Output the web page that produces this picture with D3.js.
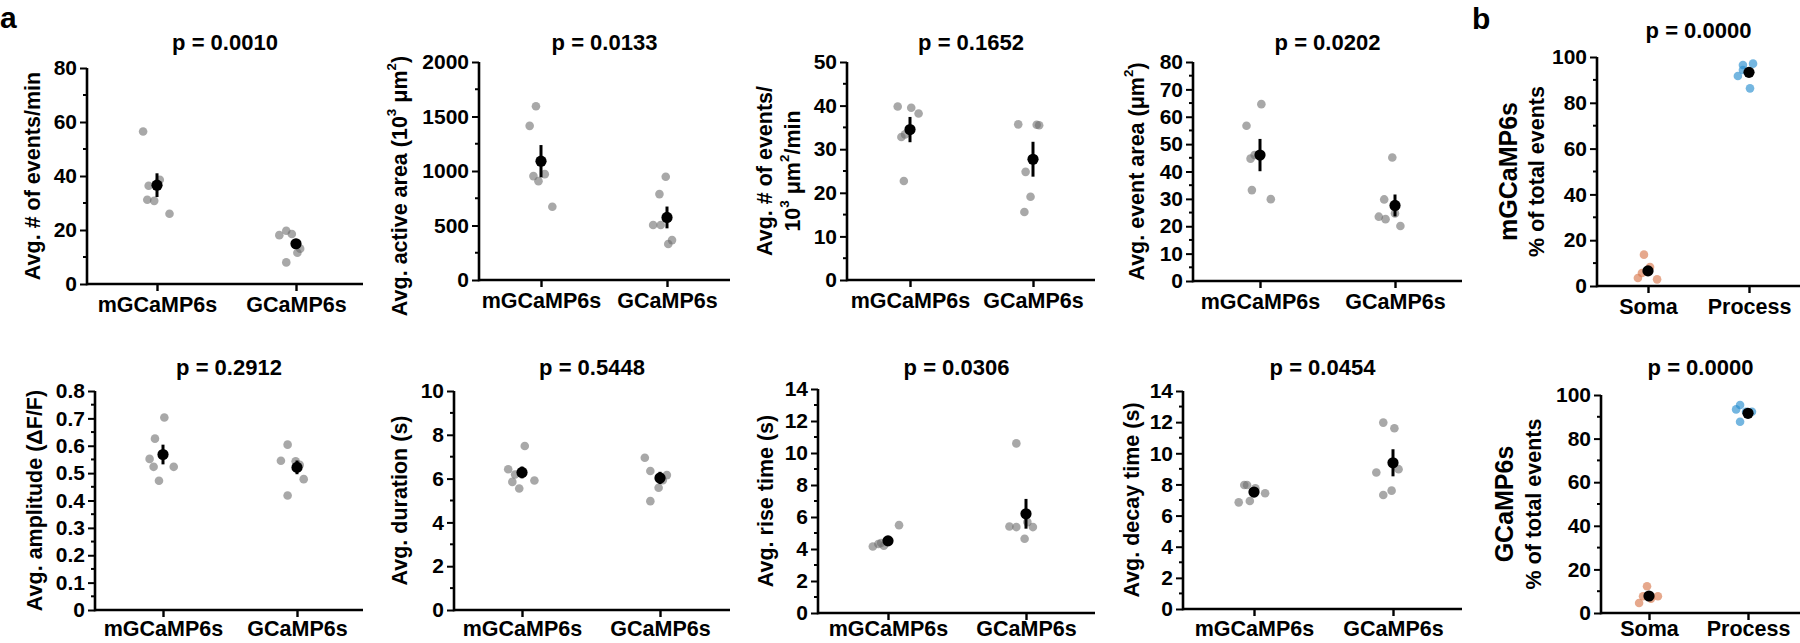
<!DOCTYPE html>
<html><head><meta charset="utf-8">
<script src="https://cdn.jsdelivr.net/npm/d3@7"></script>
<style>
body{margin:0;background:#fff}
svg{display:block}
text{font-family:"Liberation Sans",Arial,sans-serif;font-weight:bold;fill:#000}
</style>
</head><body><svg id="c" width="1800" height="643"></svg>
<script>
// ---------- categories ----------
const groupsA = ["mGCaMP6s", "GCaMP6s"];
const groupsB = ["Soma", "Process"];

// ---------- a: events / min ----------
const rateM = [56.5, 36.4, 38.6, 31.2, 30.8, 26.0];
const rateG = [18.1, 19.7, 18.5, 11.6, 13.1, 8.0];
const rateMean = [36.6, 14.9];
const rateSem = [4.4, 1.8];
const rateTicks = [0, 20, 40, 60, 80];
// ---------- a: active area ----------
const areaM = [1594, 1414, 953, 907, 971, 672];
const areaG = [947, 788, 504, 504, 366, 330];
const areaMean = [1090, 574];
const areaSem = [148, 100];
const areaTicks = [0, 500, 1000, 1500, 2000];
// ---------- a: events / 10^3 um^2 / min ----------
const densM = [39.8, 39.5, 38.2, 32.8, 33.4, 22.7];
const densG = [35.7, 35.6, 35.5, 24.8, 19.1, 15.6];
const densMean = [34.5, 27.7];
const densSem = [2.9, 4.0];
const densTicks = [0, 10, 20, 30, 40, 50];
// ---------- a: event area ----------
const evAreaM = [64.6, 56.7, 44.7, 46.0, 33.2, 29.9];
const evAreaG = [45.1, 29.8, 23.5, 22.6, 24.7, 20.1];
const evAreaMean = [46.0, 27.6];
const evAreaSem = [5.9, 4.0];
const evAreaTicks = [0, 10, 20, 30, 40, 50, 60, 70, 80];
// ---------- a: amplitude ----------
const ampM = [0.703, 0.626, 0.552, 0.523, 0.523, 0.472];
const ampG = [0.604, 0.545, 0.543, 0.478, 0.418, 0.530];
const ampMean = [0.568, 0.521];
const ampSem = [0.036, 0.025];
const ampTicks = [0, 0.1, 0.2, 0.3, 0.4, 0.5, 0.6, 0.7, 0.8];
// ---------- a: duration ----------
const durM = [7.49, 6.43, 6.19, 5.85, 5.55, 5.91];
const durG = [6.95, 6.35, 5.58, 4.97, 6.16, 5.93];
const durMean = [6.28, 6.03];
const durSem = [0.27, 0.28];
const durTicks = [0, 2, 4, 6, 8, 10];
// ---------- a: rise time ----------
const riseM = [4.16, 4.31, 4.37, 4.20, 5.49, 4.50];
const riseG = [10.6, 5.41, 5.37, 5.68, 5.37, 4.64];
const riseMean = [4.51, 6.20];
const riseSem = [0.2, 0.93];
const riseTicks = [0, 2, 4, 6, 8, 10, 12, 14];
// ---------- a: decay time ----------
const decayM = [7.96, 7.96, 7.75, 7.43, 6.85, 6.94];
const decayG = [11.97, 11.61, 8.77, 8.98, 7.32, 7.60];
const decayMean = [7.51, 9.39];
const decaySem = [0.18, 0.87];
const decayTicks = [0, 2, 4, 6, 8, 10, 12, 14];
// ---------- b: mGCaMP6s % of total events ----------
const mSoma = [13.7, 3.5, 5.7, 8.3, 2.9];
const mProcess = [86.3, 96.5, 94.3, 91.7, 97.1];
const mPctMean = [6.6, 93.3];
const mPctSem = [1.8, 1.8];
// ---------- b: GCaMP6s % of total events ----------
const gSoma = [12.25, 4.6, 7.7, 6.6, 7.7];
const gProcess = [87.75, 95.4, 92.3, 93.4, 92.3];
const gPctMean = [7.8, 91.6];
const gPctSem = [1.2, 1.2];
const pctTicks = [0, 20, 40, 60, 80, 100];

// horizontal jitter of each point, in units of the category spacing
const rateJit = [[-0.10,-0.06,0.02,-0.07,-0.02,0.09],[-0.12,-0.07,-0.03,0.01,0.03,-0.07]];
const areaJit = [[-0.04,-0.09,-0.06,-0.02,0.03,0.09],[-0.01,-0.06,-0.11,-0.05,0.04,0.01]];
const densJit = [[-0.10,0.01,0.07,-0.07,-0.04,-0.05],[-0.12,0.03,0.05,-0.06,-0.02,-0.07]];
const evAreaJit = [[0.01,-0.10,-0.07,-0.04,-0.06,0.08],[-0.02,-0.08,-0.12,-0.07,0,0.04]];
const ampJit = [[0.01,-0.06,-0.10,-0.07,0.08,-0.03],[-0.07,-0.12,-0.01,0.05,-0.07,0.02]];
const durJit = [[0.02,-0.10,-0.05,-0.07,-0.02,0.09],[-0.11,-0.07,-0.01,-0.07,0.05,0.02]];
const riseJit = [[-0.11,-0.07,-0.05,-0.03,0.08,0],[-0.07,-0.12,-0.07,0.01,0.05,-0.01]];
const decayJit = [[-0.07,-0.05,0.01,0.08,-0.11,-0.03],[-0.07,0.01,-0.12,0.04,-0.07,-0.01]];
const mPctJit = [[-0.04,-0.10,-0.06,0.02,0.09],[0.01,-0.06,-0.06,-0.11,0.04]];
const gPctJit = [[-0.02,-0.10,-0.06,0.02,0.09],[-0.08,-0.08,0.04,-0.12,-0.02]];

// ---------- styles ----------
const GRAY = {fill:"#6e6e6e", op:0.6};
const SALMON = {fill:"#d9794f", op:0.65};
const BLUE = {fill:"#2a8fd0", op:0.65};

// ---------- panel layout ----------
const panels = [
 {p:"p = 0.0010", cats:groupsA, vals:[rateM,rateG], jit:rateJit, mean:rateMean, sem:rateSem, ticks:rateTicks, minor:10,
  g:{ax:87,xe:363,yt:68,yb:284,c1:157,c2:296,pY:50}, col:[GRAY,GRAY],
  labels:[{off:54, fs:21.5, segs:[{t:"Avg. # of events/min"}]}]},
 {p:"p = 0.0133", cats:groupsA, vals:[areaM,areaG], jit:areaJit, mean:areaMean, sem:areaSem, ticks:areaTicks, minor:250,
  g:{ax:479,xe:730,yt:62,yb:280,c1:541,c2:667,pY:50}, col:[GRAY,GRAY],
  labels:[{off:79, fs:21.5, dy:15, segs:[{t:"Avg. active area (10"},{t:"3",sup:1},{t:" μm"},{t:"2",sup:1},{t:")"}]}]},
 {p:"p = 0.1652", cats:groupsA, vals:[densM,densG], jit:densJit, mean:densMean, sem:densSem, ticks:densTicks, minor:5,
  g:{ax:847,xe:1095,yt:62,yb:280,c1:910,c2:1033,pY:50}, col:[GRAY,GRAY],
  labels:[{off:82, fs:21.5, segs:[{t:"Avg. # of events/"}]},{off:54, fs:21.5, segs:[{t:"10"},{t:"3",sup:1},{t:" μm"},{t:"2",sup:1},{t:"/min"}]}]},
 {p:"p = 0.0202", cats:groupsA, vals:[evAreaM,evAreaG], jit:evAreaJit, mean:evAreaMean, sem:evAreaSem, ticks:evAreaTicks, minor:5,
  g:{ax:1193,xe:1462,yt:62,yb:281,c1:1260,c2:1395,pY:50}, col:[GRAY,GRAY],
  labels:[{off:56, fs:21.5, segs:[{t:"Avg. event area (μm"},{t:"2",sup:1},{t:")"}]}]},
 {p:"p = 0.0000", cats:groupsB, vals:[mSoma,mProcess], jit:mPctJit, mean:mPctMean, sem:mPctSem, ticks:pctTicks, minor:10,
  g:{ax:1597,xe:1800,yt:57,yb:286,c1:1648,c2:1749,pY:38}, col:[SALMON,BLUE],
  labels:[{off:89, fs:25, segs:[{t:"mGCaMP6s"}]},{off:60, fs:21.5, segs:[{t:"% of total events"}]}]},
 {p:"p = 0.2912", cats:groupsA, vals:[ampM,ampG], jit:ampJit, mean:ampMean, sem:ampSem, ticks:ampTicks, minor:0.05,
  g:{ax:95,xe:363,yt:391,yb:610,c1:163,c2:297,pY:375}, col:[GRAY,GRAY],
  labels:[{off:60, fs:21.5, segs:[{t:"Avg. amplitude (ΔF/F)"}]}]},
 {p:"p = 0.5448", cats:groupsA, vals:[durM,durG], jit:durJit, mean:durMean, sem:durSem, ticks:durTicks, minor:1,
  g:{ax:454,xe:730,yt:391,yb:610,c1:522,c2:660,pY:375}, col:[GRAY,GRAY],
  labels:[{off:54, fs:21.5, segs:[{t:"Avg. duration (s)"}]}]},
 {p:"p = 0.0306", cats:groupsA, vals:[riseM,riseG], jit:riseJit, mean:riseMean, sem:riseSem, ticks:riseTicks, minor:1,
  g:{ax:818,xe:1095,yt:389,yb:613,c1:888,c2:1026,pY:375}, col:[GRAY,GRAY],
  labels:[{off:52, fs:21.5, segs:[{t:"Avg. rise time (s)"}]}]},
 {p:"p = 0.0454", cats:groupsA, vals:[decayM,decayG], jit:decayJit, mean:decayMean, sem:decaySem, ticks:decayTicks, minor:1,
  g:{ax:1183,xe:1462,yt:391,yb:609,c1:1254,c2:1393,pY:375}, col:[GRAY,GRAY],
  labels:[{off:51, fs:21.5, segs:[{t:"Avg. decay time (s)"}]}]},
 {p:"p = 0.0000", cats:groupsB, vals:[gSoma,gProcess], jit:gPctJit, mean:gPctMean, sem:gPctSem, ticks:pctTicks, minor:10,
  g:{ax:1601,xe:1800,yt:395,yb:613,c1:1649,c2:1748,pY:375}, col:[SALMON,BLUE],
  labels:[{off:97, fs:25, segs:[{t:"GCaMP6s"}]},{off:67, fs:21.5, segs:[{t:"% of total events"}]}]}
];

const svg = d3.select("#c");

function rich(textSel, segs, fs) {
  let pending = 0;
  segs.forEach(s => {
    if (s.sup) {
      textSel.append("tspan").attr("dy", -0.42 * fs).attr("font-size", fs * 0.62).text(s.t);
      pending = 0.42 * fs;
    } else {
      textSel.append("tspan").attr("dy", pending).text(s.t);
      pending = 0;
    }
  });
}

function fmtTick(d) {
  if (d === 0) return "0";
  return Number.isInteger(d) ? String(d) : d3.format(".1f")(d);
}

panels.forEach(P => {
  const g = P.g;
  const top = P.ticks[P.ticks.length - 1];
  const y = d3.scaleLinear().domain([0, top]).range([g.yb, g.yt]);
  const x = d3.scalePoint().domain(P.cats).range([g.c1, g.c2]);
  const step = g.c2 - g.c1;
  const G = svg.append("g");

  // y axis with major ticks
  const yAxis = d3.axisLeft(y).tickValues(P.ticks).tickFormat(fmtTick).tickSize(7).tickPadding(3);
  const ya = G.append("g").attr("transform", `translate(${g.ax},0)`).call(yAxis);
  ya.select(".domain").attr("stroke", "#000").attr("stroke-width", 2.6).attr("d", `M0,${g.yb + 1.3}V${g.yt}`);
  ya.selectAll(".tick line").attr("stroke", "#000").attr("stroke-width", 2);
  ya.selectAll(".tick text").attr("font-size", 21).attr("font-family", null).attr("fill", "#000");
  // minor ticks
  const minors = d3.range(P.minor, top, P.minor).filter(v => !P.ticks.some(t => Math.abs(t - v) < 1e-9));
  G.selectAll("line.minor").data(minors).enter().append("line")
    .attr("x1", g.ax).attr("x2", g.ax - 4)
    .attr("y1", d => y(d)).attr("y2", d => y(d))
    .attr("stroke", "#000").attr("stroke-width", 2);

  // x axis
  const xAxis = d3.axisBottom(x).tickSize(7).tickPadding(6);
  const xa = G.append("g").attr("transform", `translate(0,${g.yb})`).call(xAxis);
  xa.select(".domain").attr("stroke", "#000").attr("stroke-width", 2.6).attr("d", `M${g.ax},0H${g.xe}`);
  xa.selectAll(".tick line").attr("stroke", "#000").attr("stroke-width", 2.4);
  xa.selectAll(".tick text").attr("font-size", 21.5).attr("font-family", null).attr("fill", "#000")
    .attr("dy", null).attr("y", Math.min(28, 636 - g.yb));

  // points
  P.cats.forEach((c, ci) => {
    const col = P.col[ci];
    G.selectAll(null).data(P.vals[ci]).enter().append("circle")
      .attr("cx", (d, i) => x(c) + P.jit[ci][i] * step)
      .attr("cy", d => y(d))
      .attr("r", 4.3)
      .attr("fill", col.fill).attr("fill-opacity", col.op);
  });
  // mean +- sem
  G.selectAll(null).data(P.cats).enter().append("line")
    .attr("x1", c => x(c)).attr("x2", c => x(c))
    .attr("y1", (c, i) => y(P.mean[i] - P.sem[i]))
    .attr("y2", (c, i) => y(P.mean[i] + P.sem[i]))
    .attr("stroke", "#000").attr("stroke-width", 3);
  G.selectAll(null).data(P.cats).enter().append("circle")
    .attr("cx", c => x(c)).attr("cy", (c, i) => y(P.mean[i]))
    .attr("r", 5.6).attr("fill", "#000");

  // p value
  G.append("text").attr("x", (g.ax + g.xe) / 2).attr("y", g.pY)
    .attr("text-anchor", "middle").attr("font-size", 22).text(P.p);

  // y labels
  const cy = (g.yt + g.yb) / 2;
  P.labels.forEach(L => {
    const t = G.append("text")
      .attr("transform", `translate(${g.ax - L.off},${cy + (L.dy || 0)}) rotate(-90)`)
      .attr("text-anchor", "middle").attr("dominant-baseline", "central")
      .attr("font-size", L.fs);
    rich(t, L.segs, L.fs);
  });
});

// panel letters
svg.append("text").attr("x", 0).attr("y", 28).attr("font-size", 30).text("a");
svg.append("text").attr("x", 1472).attr("y", 29).attr("font-size", 30).text("b");
</script>
</body></html>
